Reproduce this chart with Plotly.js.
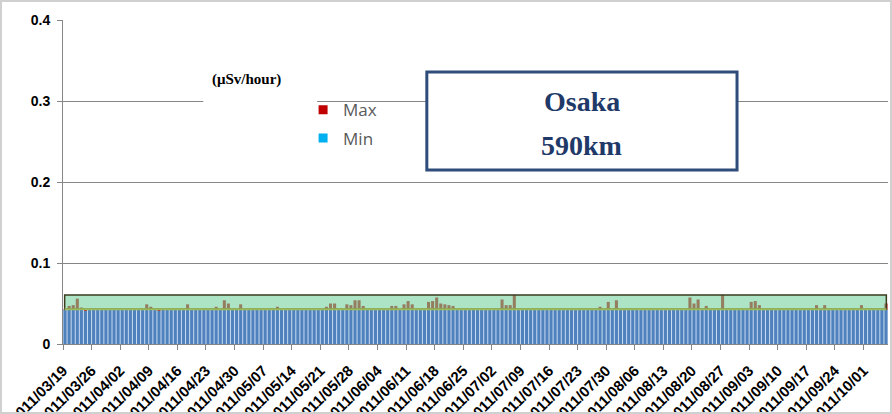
<!DOCTYPE html>
<html>
<head>
<meta charset="utf-8">
<script src="https://cdn.plot.ly/plotly-3.0.1.min.js"></script>
<style>
  html, body { margin: 0; padding: 0; background: #ffffff; }
  #chart { width: 892px; height: 414px; }
</style>
</head>
<body>
<div id="chart"></div>
<script>
// Categories: one bar per day starting 2011/03/19
var startDate = [2011, 2, 19];
var dayCount = 202;
var dates = [];
for (var i = 0; i < dayCount; i++) {
  dates.push(new Date(Date.UTC(startDate[0], startDate[1], startDate[2] + i)).toISOString().slice(0, 10));
}

// Daily maximum (µSv/hour)
var maxValues = [
  0.043, 0.047, 0.048, 0.056, 0.045, 0.043, 0.043, 0.043, 0.043, 0.043,
  0.043, 0.043, 0.043, 0.043, 0.043, 0.043, 0.043, 0.043, 0.043, 0.043,
  0.049, 0.046, 0.043, 0.043, 0.043, 0.043, 0.043, 0.043, 0.043, 0.043,
  0.049, 0.043, 0.043, 0.043, 0.043, 0.043, 0.043, 0.046, 0.043, 0.054,
  0.050, 0.043, 0.043, 0.049, 0.043, 0.043, 0.043, 0.043, 0.043, 0.043,
  0.043, 0.043, 0.046, 0.043, 0.043, 0.043, 0.043, 0.043, 0.043, 0.043,
  0.043, 0.043, 0.043, 0.043, 0.046, 0.050, 0.050, 0.043, 0.043, 0.049,
  0.048, 0.054, 0.054, 0.047, 0.043, 0.043, 0.043, 0.043, 0.043, 0.043,
  0.047, 0.047, 0.043, 0.049, 0.053, 0.049, 0.043, 0.043, 0.043, 0.052,
  0.053, 0.0575, 0.050, 0.049, 0.048, 0.047, 0.043, 0.043, 0.043, 0.043,
  0.043, 0.043, 0.043, 0.043, 0.043, 0.043, 0.043, 0.055, 0.048, 0.048,
  0.0605, 0.043, 0.043, 0.043, 0.043, 0.043, 0.043, 0.043, 0.043, 0.043,
  0.043, 0.043, 0.043, 0.043, 0.043, 0.043, 0.043, 0.043, 0.043, 0.043,
  0.043, 0.046, 0.043, 0.052, 0.043, 0.054, 0.043, 0.043, 0.043, 0.043,
  0.043, 0.043, 0.043, 0.043, 0.043, 0.043, 0.043, 0.043, 0.043, 0.043,
  0.043, 0.043, 0.043, 0.0575, 0.050, 0.055, 0.043, 0.047, 0.043, 0.043,
  0.043, 0.0605, 0.043, 0.043, 0.043, 0.043, 0.043, 0.043, 0.052, 0.053,
  0.048, 0.043, 0.043, 0.043, 0.043, 0.043, 0.043, 0.043, 0.043, 0.043,
  0.043, 0.043, 0.043, 0.043, 0.048, 0.043, 0.048, 0.043, 0.043, 0.043,
  0.043, 0.043, 0.043, 0.043, 0.043, 0.048, 0.043, 0.043, 0.043, 0.043,
  0.043, 0.050
];

// Daily minimum (µSv/hour)
var minValues = [
  0.042, 0.042, 0.042, 0.042, 0.042, 0.041, 0.042, 0.042, 0.042, 0.042,
  0.042, 0.042, 0.042, 0.042, 0.042, 0.042, 0.042, 0.042, 0.042, 0.042,
  0.042, 0.042, 0.042, 0.041, 0.042, 0.042, 0.042, 0.042, 0.042, 0.042,
  0.042, 0.042, 0.042, 0.042, 0.042, 0.042, 0.042, 0.042, 0.042, 0.042,
  0.042, 0.042, 0.042, 0.042, 0.042, 0.042, 0.042, 0.042, 0.042, 0.042,
  0.042, 0.042, 0.042, 0.042, 0.042, 0.042, 0.042, 0.042, 0.042, 0.042,
  0.042, 0.042, 0.042, 0.042, 0.042, 0.042, 0.042, 0.042, 0.042, 0.042,
  0.042, 0.042, 0.042, 0.042, 0.042, 0.042, 0.042, 0.042, 0.042, 0.042,
  0.042, 0.042, 0.042, 0.042, 0.042, 0.042, 0.042, 0.042, 0.042, 0.042,
  0.042, 0.042, 0.042, 0.042, 0.042, 0.042, 0.042, 0.042, 0.042, 0.042,
  0.042, 0.042, 0.042, 0.042, 0.042, 0.042, 0.042, 0.042, 0.042, 0.042,
  0.042, 0.042, 0.042, 0.042, 0.042, 0.042, 0.042, 0.042, 0.042, 0.042,
  0.042, 0.042, 0.042, 0.042, 0.042, 0.042, 0.042, 0.042, 0.042, 0.042,
  0.042, 0.042, 0.042, 0.042, 0.042, 0.042, 0.042, 0.042, 0.042, 0.042,
  0.042, 0.042, 0.042, 0.042, 0.042, 0.042, 0.042, 0.042, 0.042, 0.042,
  0.042, 0.042, 0.042, 0.042, 0.042, 0.042, 0.042, 0.042, 0.042, 0.042,
  0.042, 0.042, 0.042, 0.042, 0.042, 0.042, 0.042, 0.042, 0.042, 0.042,
  0.042, 0.042, 0.042, 0.042, 0.042, 0.042, 0.042, 0.042, 0.042, 0.042,
  0.042, 0.042, 0.042, 0.042, 0.042, 0.042, 0.042, 0.042, 0.042, 0.042,
  0.042, 0.042, 0.042, 0.042, 0.042, 0.042, 0.042, 0.042, 0.042, 0.042,
  0.042, 0.042
];

var seriesNames = ['Max', 'Min'];
var legendColors = ['#c00000', '#00b0f0'];
var unitLabel = '(μSv/hour)';
var stationLines = ['Osaka', '590km'];
var bandRange = [0.043, 0.0605];   // shaded normal range band
var xRange = ['2011-03-19', '2011-10-07'];
var yTicks = [0, 0.1, 0.2, 0.3, 0.4];

var DAY = 86400000;

// Max bars are drawn from the day's minimum up to its maximum (so only the part above Min shows)
var maxSpan = maxValues.map(function (v, k) { return v - minValues[k]; });

var traces = [
  {
    type: 'bar', x: dates, y: minValues, name: seriesNames[1],
    xperiod: DAY, xperiodalignment: 'middle',
    marker: { color: '#4f81bd', line: { width: 0 } },
    showlegend: false, hoverinfo: 'x+y'
  },
  {
    type: 'bar', x: dates, y: maxSpan, base: minValues, name: seriesNames[0],
    xperiod: DAY, xperiodalignment: 'middle',
    marker: { color: '#c00000', line: { width: 0 } },
    showlegend: false, hoverinfo: 'x'
  },
  {
    type: 'scatter', mode: 'markers', x: [null], y: [null], name: seriesNames[0],
    marker: { symbol: 'square', size: 9, color: legendColors[0] },
    legendgroup: 'a', showlegend: true
  },
  {
    type: 'scatter', mode: 'markers', x: [null], y: [null], name: seriesNames[1],
    marker: { symbol: 'square', size: 9, color: legendColors[1] },
    legendgroup: 'b', showlegend: true
  }
];

var layout = {
  width: 892, height: 414,
  margin: { l: 63, r: 4, t: 20, b: 70 },
  paper_bgcolor: '#ffffff',
  plot_bgcolor: '#ffffff',
  barmode: 'overlay',
  bargap: 0.25,
  showlegend: true,
  legend: {
    x: 0.291, xanchor: 'left', y: 0.777, yanchor: 'top',
    bgcolor: 'rgba(0,0,0,0)', borderwidth: 0,
    font: { family: 'Open Sans, sans-serif', size: 17, color: '#595959' },
    traceorder: 'grouped', tracegroupgap: 3,
    itemclick: false, itemdoubleclick: false
  },
  xaxis: {
    type: 'date',
    range: xRange,
    tick0: '2011-03-19', dtick: 7 * DAY,
    tickformat: '%Y/%m/%d',
    tickangle: -45,
    ticks: 'outside', ticklen: 5, tickcolor: '#868686',
    ticklabelstandoff: 6,
    showgrid: false,
    showline: true, linecolor: '#868686', linewidth: 1,
    tickfont: { family: 'Liberation Sans, Arial, sans-serif', size: 15, color: '#000000', weight: 'bold' },
    fixedrange: true
  },
  yaxis: {
    range: [0, 0.4],
    tickvals: yTicks,
    ticktext: yTicks.map(function (v) { return String(v); }),
    ticks: 'outside', ticklen: 5, tickcolor: '#868686',
    ticklabelstandoff: 4,
    showgrid: true, gridcolor: '#868686', gridwidth: 1,
    zeroline: false,
    showline: true, linecolor: '#868686', linewidth: 1,
    tickfont: { family: 'Liberation Sans, Arial, sans-serif', size: 14, color: '#000000', weight: 'bold' },
    fixedrange: true
  },
  shapes: [
    // light background behind the daily bars
    { type: 'rect', xref: 'paper', yref: 'y', x0: 0, x1: 1, y0: 0, y1: minValues[0],
      fillcolor: '#c6d9f1', line: { width: 0 }, layer: 'below' },
    // shaded band
    { type: 'rect', xref: 'paper', yref: 'y', x0: 0.002, x1: 0.998, y0: bandRange[0], y1: bandRange[1],
      fillcolor: 'rgba(120,210,160,0.6)', line: { color: '#3b3b1e', width: 1.5 }, layer: 'above' },
    { type: 'line', xref: 'paper', yref: 'y', x0: 0.002, x1: 0.998, y0: bandRange[0], y1: bandRange[0],
      line: { color: '#9bbb59', width: 2 }, layer: 'above' },
    // white patch behind unit label
    { type: 'rect', xref: 'paper', yref: 'paper', x0: 0.170, x1: 0.308, y0: 0.74, y1: 0.86,
      fillcolor: '#ffffff', line: { width: 0 }, layer: 'above' },
    // station box
    { type: 'rect', xref: 'paper', yref: 'paper', x0: 0.441, x1: 0.817, y0: 0.537, y1: 0.8395,
      fillcolor: '#ffffff', line: { color: '#2e4d7b', width: 3 }, layer: 'above' },
    // outer frame
    { type: 'rect', xref: 'paper', yref: 'paper', x0: -0.0752, x1: 1.0036, y0: -0.213, y1: 1.059,
      fillcolor: 'rgba(0,0,0,0)', line: { color: '#d0d0d0', width: 2 }, layer: 'above' }
  ],
  annotations: [
    { xref: 'paper', yref: 'paper', x: 0.222, y: 0.815, xanchor: 'center', yanchor: 'middle',
      text: unitLabel, showarrow: false,
      font: { family: 'Liberation Serif, Times New Roman, serif', size: 15, color: '#000000', weight: 'bold' } },
    { xref: 'paper', yref: 'paper', x: 0.629, y: 0.75, xanchor: 'center', yanchor: 'middle',
      text: stationLines[0], showarrow: false,
      font: { family: 'Liberation Serif, Times New Roman, serif', size: 28, color: '#1f3a68', weight: 'bold' } },
    { xref: 'paper', yref: 'paper', x: 0.629, y: 0.614, xanchor: 'center', yanchor: 'middle',
      text: stationLines[1], showarrow: false,
      font: { family: 'Liberation Serif, Times New Roman, serif', size: 28, color: '#1f3a68', weight: 'bold' } }
  ]
};

Plotly.newPlot('chart', traces, layout, { displayModeBar: false, staticPlot: true });
</script>
</body>
</html>
